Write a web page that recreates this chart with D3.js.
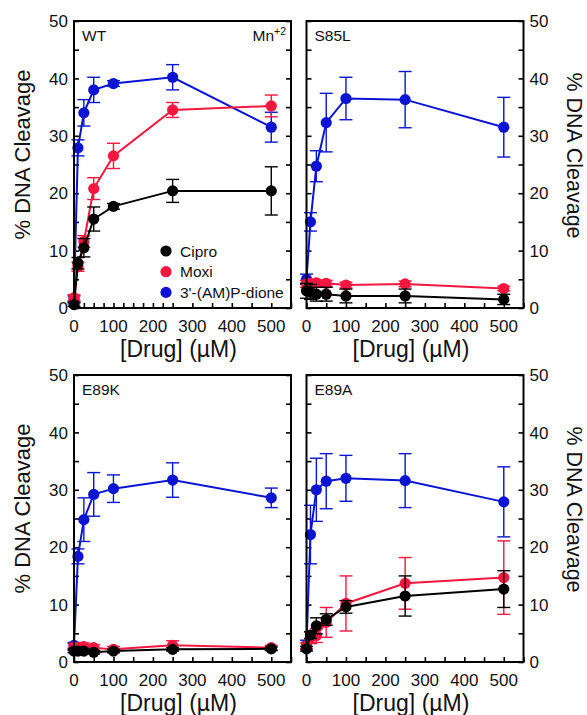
<!DOCTYPE html>
<html><head><meta charset="utf-8">
<script src="https://cdn.jsdelivr.net/npm/d3@7"></script>
<style>body{margin:0;background:#fff}svg{display:block}text{font-family:Arial,"Liberation Sans",sans-serif;fill:#111}</style>
</head><body>
<svg id="c" width="587" height="715"></svg>
<script>
// ---- data ----
const conc = [0, 10, 25, 50, 100, 250, 500];
const seriesNames = ["Cipro", "Moxi", "3'-(AM)P-dione"];
const panelNames = ["WT", "S85L", "E89K", "E89A"];
const xTickLabels = [0, 100, 200, 300, 400, 500];
const yTickLabels = [0, 10, 20, 30, 40, 50];

// WT
const wtCipro = [0.6, 7.8, 10.5, 15.5, 17.7, 20.4, 20.4];
const wtCiproErr = [0.3, 1.0, 1.6, 2.1, 0.5, 2.0, 4.2];
const wtMoxi = [1.8, 7.2, 11.6, 20.8, 26.5, 34.5, 35.2];
const wtMoxiErr = [0.5, 0.8, 1.0, 1.9, 2.2, 1.3, 1.9];
const wtDione = [1.6, 27.9, 34.0, 38.0, 39.1, 40.2, 31.5];
const wtDioneErr = [0.5, 1.4, 2.3, 2.2, 0.5, 2.2, 2.6];
// S85L
const s85Cipro = [3.0, 2.8, 2.4, 2.4, 2.1, 2.1, 1.5];
const s85CiproErr = [1.3, 1.3, 1.2, 1.2, 1.2, 1.2, 0.9];
const s85Moxi = [4.2, 4.3, 4.4, 4.3, 4.0, 4.2, 3.4];
const s85MoxiErr = [0.6, 0.6, 0.5, 0.5, 0.5, 0.5, 0.4];
const s85Dione = [5.0, 15.0, 24.7, 32.3, 36.5, 36.3, 31.5];
const s85DioneErr = [0.9, 1.6, 2.7, 5.1, 3.7, 4.9, 5.2];
// E89K
const e89kCipro = [1.9, 1.9, 1.9, 1.7, 1.9, 2.2, 2.3];
const e89kCiproErr = [0.3, 0.3, 0.3, 0.3, 0.3, 0.3, 0.3];
const e89kMoxi = [2.6, 2.5, 2.7, 2.5, 2.2, 2.9, 2.5];
const e89kMoxiErr = [0.6, 0.6, 0.6, 0.5, 0.5, 0.8, 0.4];
const e89kDione = [2.9, 18.4, 24.8, 29.2, 30.2, 31.7, 28.6];
const e89kDioneErr = [0.5, 1.3, 3.8, 3.8, 2.4, 3.0, 1.7];
// E89A
const e89aCipro = [2.3, 4.7, 6.3, 7.4, 9.6, 11.5, 12.7];
const e89aCiproErr = [0.4, 0.6, 1.4, 1.0, 1.1, 3.5, 3.2];
const e89aMoxi = [2.8, 4.2, 4.6, 6.9, 10.2, 13.7, 14.7];
const e89aMoxiErr = [0.5, 1.0, 1.2, 2.6, 4.8, 4.5, 6.4];
const e89aDione = [3.0, 22.2, 30.0, 31.5, 32.0, 31.6, 27.9];
const e89aDioneErr = [0.8, 5.1, 5.5, 4.8, 4.0, 4.7, 6.1];

const panelData = [
  [[wtCipro, wtCiproErr], [wtMoxi, wtMoxiErr], [wtDione, wtDioneErr]],
  [[s85Cipro, s85CiproErr], [s85Moxi, s85MoxiErr], [s85Dione, s85DioneErr]],
  [[e89kCipro, e89kCiproErr], [e89kMoxi, e89kMoxiErr], [e89kDione, e89kDioneErr]],
  [[e89aCipro, e89aCiproErr], [e89aMoxi, e89aMoxiErr], [e89aDione, e89aDioneErr]]
];

// ---- style ----
const colors = ["#000000", "#f5173f", "#0a14d2"];
const W = 217, H = 287;
const origins = [[74, 21], [306.5, 21], [74, 375], [306.5, 375]];

const svg = d3.select("#c");
const x = d3.scaleLinear().domain([0, 550]).range([0, W]);
const y = d3.scaleLinear().domain([0, 50]).range([H, 0]);

panelNames.forEach((name, pi) => {
  const [ox, oy] = origins[pi];
  const g = svg.append("g").attr("transform", `translate(${ox},${oy})`);
  const isLeft = pi % 2 === 0;

  // inward ticks
  const tickLen = 5;
  const xt = pi === 0 ? d3.range(0, 251, 25).concat(d3.range(300, 551, 50)) : d3.range(0, 551, 50);
  const ax = d3.axisTop(x).tickValues(xt).tickSize(tickLen).tickFormat("");
  g.append("g").attr("transform", `translate(0,${H})`).call(ax);
  const al = d3.axisRight(y).tickValues(d3.range(0, 51, 5)).tickSize(tickLen).tickFormat("");
  g.append("g").call(al);
  const ar = d3.axisLeft(y).tickValues(d3.range(0, 51, 5)).tickSize(tickLen).tickFormat("");
  g.append("g").attr("transform", `translate(${W},0)`).call(ar);
  g.selectAll(".domain").remove();
  g.selectAll(".tick line").attr("stroke", "#000").attr("stroke-width", 1.6);

  // tick labels
  g.selectAll(".xl").data(xTickLabels).join("text")
    .attr("x", d => x(d)).attr("y", H + 23.5)
    .attr("text-anchor", "middle").attr("font-size", 17).text(d => d);
  g.selectAll(".yl").data(yTickLabels).join("text")
    .attr("x", isLeft ? -6 : W + 6).attr("y", d => y(d)).attr("dy", "0.36em")
    .attr("text-anchor", isLeft ? "end" : "start").attr("font-size", 17).text(d => d);

  // axis titles
  g.append("text").attr("x", x(275) - 4).attr("y", H + 48.5)
    .attr("text-anchor", "middle").attr("font-size", 23).text("[Drug] (µM)");
  if (isLeft) {
    g.append("text").attr("transform", `translate(${30 - ox},${H / 2 - 10}) rotate(-90)`)
      .attr("text-anchor", "middle").attr("font-size", 22).text("% DNA Cleavage");
  } else {
    g.append("text").attr("transform", `translate(${566.5 - ox},${H / 2 - 9}) rotate(90)`)
      .attr("text-anchor", "middle").attr("font-size", 21.5).text("% DNA Cleavage");
  }

  // series: draw Dione first, then Moxi, then Cipro on top
  [2, 1, 0].forEach(si => {
    const [vals, errs] = panelData[pi][si];
    const pts = conc.map((c, i) => ({ c, v: vals[i], e: errs[i] }));
    const sg = g.append("g");
    sg.append("path").datum(pts)
      .attr("fill", "none").attr("stroke", colors[si]).attr("stroke-width", 2)
      .attr("d", d3.line().x(d => x(d.c)).y(d => y(d.v)));
    const eb = sg.selectAll(".eb").data(pts).join("g");
    eb.append("line").attr("x1", d => x(d.c)).attr("x2", d => x(d.c))
      .attr("y1", d => y(d.v - d.e)).attr("y2", d => y(d.v + d.e))
      .attr("stroke", colors[si]).attr("stroke-width", 1.4);
    [-1, 1].forEach(s => {
      eb.append("line").attr("x1", d => x(d.c) - 6.5).attr("x2", d => x(d.c) + 6.5)
        .attr("y1", d => y(d.v + s * d.e)).attr("y2", d => y(d.v + s * d.e))
        .attr("stroke", colors[si]).attr("stroke-width", 1.4);
    });
    sg.selectAll("circle").data(pts).join("circle")
      .attr("cx", d => x(d.c)).attr("cy", d => y(d.v)).attr("r", 5.6)
      .attr("fill", colors[si]);
  });

  // frame
  g.append("rect").attr("width", W).attr("height", H)
    .attr("fill", "none").attr("stroke", "#000").attr("stroke-width", 2);

  // panel label
  g.append("text").attr("x", 8).attr("y", 19.5).attr("font-size", 15.5).text(name);
});

// Mn+2 label & legend in WT panel
const g0 = svg.append("g").attr("transform", `translate(${origins[0][0]},${origins[0][1]})`);
const mn = g0.append("text").attr("x", W - 5).attr("y", 19.5).attr("text-anchor", "end").attr("font-size", 15.5);
mn.append("tspan").text("Mn");
mn.append("tspan").attr("dy", -6).attr("font-size", 10.5).text("+2");

const leg = g0.selectAll(".leg").data(seriesNames).join("g")
  .attr("transform", (d, i) => `translate(92,${230 + i * 20.7})`);
leg.append("circle").attr("r", 5.6).attr("fill", (d, i) => colors[i]);
leg.append("text").attr("x", 14).attr("dy", "0.36em").attr("font-size", 15.5).text(d => d);
</script>
</body></html>
